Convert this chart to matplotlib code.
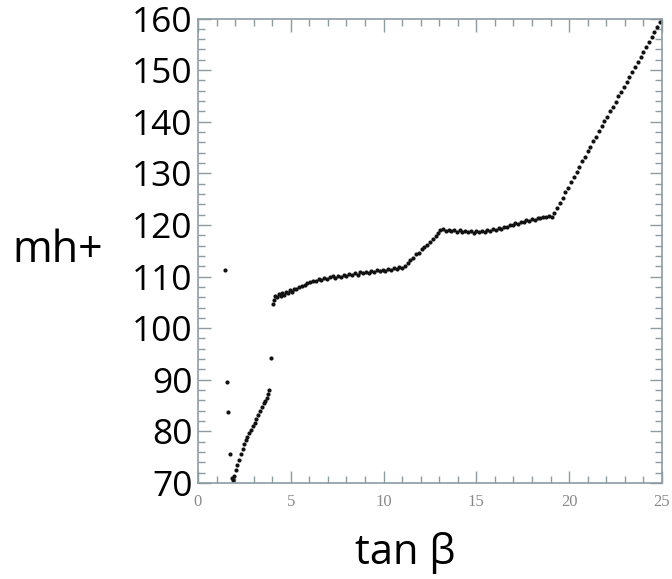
import matplotlib
matplotlib.use("Agg")
import matplotlib.pyplot as plt
from matplotlib.ticker import MultipleLocator

# isolated points near the left edge
iso_x = [1.45, 1.55, 1.60, 1.72, 3.95]
iso_y = [111.2, 89.6, 83.8, 75.7, 94.2]

# lower branch
low_x = [1.85, 1.90, 1.95, 2.05, 2.12, 2.20, 2.30, 2.40, 2.48, 2.57, 2.65, 2.75,
         2.85, 2.95, 3.05, 3.15, 3.25, 3.35, 3.45, 3.55, 3.62, 3.70, 3.78, 3.85]
low_y = [71.0, 70.6, 71.3, 72.6, 73.4, 74.5, 75.6, 76.6, 77.5, 78.3, 79.0, 79.6,
         80.3, 81.0, 81.6, 82.4, 83.2, 84.0, 84.8, 85.5, 85.9, 86.5, 87.2, 88.0]

# upper branch
up_x = [4.05, 4.10, 4.15, 4.25, 4.35, 4.45, 4.55, 4.65, 4.75, 4.85, 4.95, 5.05,
        5.15, 5.30, 5.45, 5.60, 5.75, 5.90, 6.05, 6.20, 6.35, 6.50, 6.65, 6.80,
        6.95, 7.10, 7.25, 7.40, 7.55, 7.70, 7.85, 8.00, 8.15, 8.30, 8.45, 8.60,
        8.75, 8.90, 9.05, 9.20, 9.35, 9.50, 9.65, 9.80, 9.95, 10.10, 10.25, 10.40,
        10.55, 10.70, 10.85, 11.00, 11.15, 11.30, 11.45, 11.60, 11.75, 11.90, 12.05, 12.20,
        12.35, 12.50, 12.65, 12.80, 12.95, 13.05, 13.20, 13.35, 13.50, 13.65, 13.80, 13.95,
        14.10, 14.25, 14.40, 14.55, 14.70, 14.85, 15.00, 15.15, 15.30, 15.45, 15.60, 15.75,
        15.90, 16.05, 16.20, 16.35, 16.50, 16.65, 16.80, 16.95, 17.10, 17.25, 17.40, 17.55,
        17.70, 17.85, 18.00, 18.15, 18.30, 18.45, 18.60, 18.75, 18.90, 19.05, 19.20, 19.35,
        19.50, 19.65, 19.80, 19.95, 20.10, 20.25, 20.40, 20.55, 20.70, 20.85, 21.00, 21.15,
        21.30, 21.45, 21.60, 21.75, 21.90, 22.05, 22.20, 22.35, 22.50, 22.65, 22.80, 22.95,
        23.10, 23.25, 23.40, 23.55, 23.70, 23.85, 24.00, 24.15, 24.30, 24.45, 24.60, 24.75,
        24.90]
up_y = [104.7, 105.5, 106.3, 106.0, 106.6, 106.2, 106.8, 106.5, 107.0, 106.8, 107.4, 107.1,
        107.6, 107.5, 107.9, 108.2, 108.4, 108.8, 108.9, 109.2, 109.1, 109.5, 109.4, 109.8,
        109.6, 109.9, 110.1, 109.8, 110.2, 110.0, 110.4, 110.1, 110.5, 110.3, 110.6, 110.4,
        110.8, 110.6, 110.9, 110.7, 111.0, 110.8, 111.2, 111.0, 111.3, 111.1, 111.5, 111.3,
        111.6, 111.4, 111.8, 111.6, 112.0, 112.6, 113.2, 113.6, 114.3, 114.6, 115.3, 115.7,
        116.2, 116.7, 117.2, 117.8, 118.5, 119.0, 119.2, 118.9, 119.1, 118.8, 119.0, 118.7,
        119.0, 118.7, 118.9, 118.6, 118.9, 118.5, 118.8, 118.6, 118.9, 118.7, 119.0, 118.9,
        119.2, 119.1, 119.4, 119.3, 119.7, 119.6, 120.0, 119.9, 120.3, 120.2, 120.6, 120.5,
        120.9, 120.8, 121.1, 121.0, 121.4, 121.3, 121.6, 121.5, 121.7, 121.6, 122.3, 123.2,
        124.3, 125.2, 126.3, 127.2, 128.3, 129.2, 130.3, 131.2, 132.3, 133.2, 134.3, 135.2,
        136.2, 137.1, 138.2, 139.1, 140.1, 141.0, 142.0, 142.9, 143.9, 144.9, 145.8, 146.8,
        147.7, 148.7, 149.7, 150.6, 151.6, 152.5, 153.5, 154.4, 155.4, 156.4, 157.3, 158.3,
        159.3]

y_ticks = [70, 80, 90, 100, 110, 120, 130, 140, 150, 160]
x_ticks = [0, 5, 10, 15, 20, 25]

big_font = ["Open Sans", "DejaVu Sans"]
spine_col = "#8d9ca3"

fig = plt.figure(figsize=(6.72, 5.79), dpi=100)
ax = fig.add_axes([0.2946, 0.1658, 0.6904, 0.8022])

for xs, ys in [(iso_x, iso_y), (low_x, low_y), (up_x, up_y)]:
    ax.plot(xs, ys, linestyle="none", marker="o", markersize=3.0,
            color="#111111", markeredgewidth=0)

ax.set_xlim(0, 25)
ax.set_ylim(70, 160)

ax.set_xticks(x_ticks)
ax.set_xticklabels([str(v) for v in x_ticks], family="Liberation Serif",
                   fontsize=12, color="#8a8a8a")
ax.xaxis.set_minor_locator(MultipleLocator(1))
ax.set_yticks(y_ticks)
ax.set_yticklabels([str(v) for v in y_ticks], family=big_font, fontsize=25.5,
                   color="black")
ax.yaxis.set_minor_locator(MultipleLocator(2))

ax.tick_params(which="both", direction="in", top=True, right=True,
               color=spine_col, width=1.0)
ax.tick_params(which="major", length=9)
ax.tick_params(which="minor", length=5)
ax.tick_params(axis="x", pad=8)
ax.tick_params(axis="y", pad=4)

for s in ax.spines.values():
    s.set_color(spine_col)
    s.set_linewidth(1.2)

ax.set_ylabel("mh+", family=big_font, fontsize=31, rotation=0,
              ha="center", va="center")
ax.yaxis.set_label_coords(-0.302, 0.50)
ax.set_xlabel("tan β", family=big_font, fontsize=30)
ax.xaxis.set_label_coords(0.446, -0.15)
ax.xaxis.label.set_va("center")

fig.savefig("out.png", dpi=100)
